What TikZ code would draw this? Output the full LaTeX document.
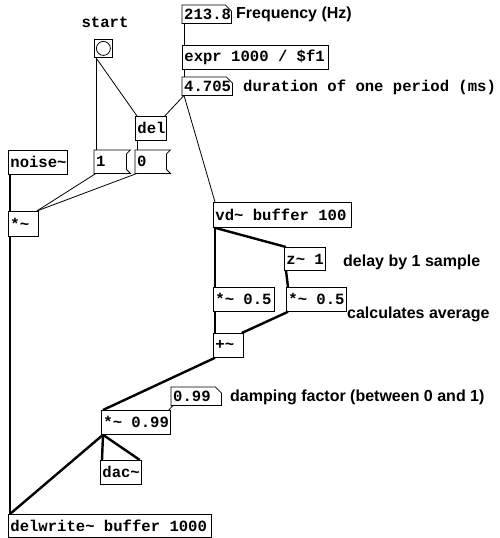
\documentclass[tikz,border=0pt]{standalone}
\usepackage{fontspec}
\usepackage{tikz}
\newfontfamily\pdmono{Liberation Mono}[WordSpace={1,0,0}]
\newfontfamily\pdsans{Liberation Sans}
\newcommand{\pdfont}{\pdmono\bfseries\fontsize{15.6}{16}\selectfont}
\newcommand{\cmtfont}{\pdsans\bfseries\fontsize{16}{17}\selectfont}
\newcommand{\tld}{\textasciitilde}
\tikzset{
  pdobj/.style={draw, line width=0.8pt, anchor=north west, font=\pdfont,
                inner xsep=2pt, inner ysep=0pt, minimum height=24pt,
                execute at begin node={\hbox to #1\bgroup},
                execute at end node={\hfil\egroup}},
  pdnum/.style={anchor=north west, font=\pdfont, inner xsep=2pt,
                inner ysep=0pt, minimum height=18pt,
                execute at begin node={\hbox to #1\bgroup},
                execute at end node={\hfil\egroup},
                append after command={\pgfextra{\let\nb\tikzlastnode
                  \draw[line width=0.8pt] (\nb.north west) -- ([xshift=-6pt]\nb.north east)
                    -- ([yshift=-6pt]\nb.north east) -- (\nb.south east)
                    -- (\nb.south west) -- cycle;}}},
  pdmsg/.style={anchor=north west, font=\pdfont, inner xsep=2pt,
                inner ysep=0pt, minimum height=23pt,
                execute at begin node={\hbox to #1\bgroup},
                execute at end node={\hfil\egroup},
                append after command={\pgfextra{\let\mb\tikzlastnode
                  \draw[line width=0.8pt] (\mb.north west) -- ([xshift=4pt]\mb.north east)
                    -- ([yshift=-4pt]\mb.north east) -- ([yshift=4pt]\mb.south east)
                    -- ([xshift=4pt]\mb.south east) -- (\mb.south west) -- cycle;}}},
  pdbng/.style={draw, line width=0.8pt, anchor=north west, minimum size=18pt,
                inner sep=0pt,
                path picture={\draw[line width=0.8pt] (path picture bounding box.center) circle (7pt);}},
  pdlbl/.style={font=\pdfont, inner sep=0pt, anchor=west},
  pdcmt/.style={font=\cmtfont, inner sep=0pt, anchor=west},
  ctl/.style={line width=0.8pt},
  sig/.style={line width=2.4pt}
}
\begin{document}
\begin{tikzpicture}[x=1pt,y=-1pt]
  \useasboundingbox (0,0) rectangle (500,538);
  % control part
  \node[pdlbl, anchor=center] (starttxt) at (105,22) {start};
  \node[pdbng] (bng) at (94,39) {};
  \node[pdnum=45pt] (freq) at (182,5) {213.8};
  \node[pdcmt] (freqtxt) at (236,14) {Frequency (Hz)};
  \node[pdobj=142pt] (expr) at (182,45) {expr 1000 / \$f1};
  \node[pdnum=46pt] (period) at (182,77) {4.705};
  \node[pdlbl] (periodtxt) at (243,87) {duration of one period (ms)};
  \node[pdobj=27pt] (del) at (135,116) {del};
  \node[pdobj=55pt] (noise) at (8,150) {noise\tld};
  \node[pdmsg=28pt] (msgone) at (94,150) {1};
  \node[pdmsg=27pt] (msgzero) at (135,150) {0};
  \node[pdobj=26pt, minimum height=25pt] (mulnoise) at (8,211) {*\tld};
  % signal part
  \node[pdobj=134pt, minimum height=25pt] (vd) at (213,202) {vd\tld{} buffer 100};
  \node[pdobj=37pt, minimum height=23pt] (zdel) at (284,247) {z\tld{} 1};
  \node[pdcmt] (zdeltxt) at (343,262) {delay by 1 sample};
  \node[pdobj=57pt] (mula) at (213,287) {*\tld{} 0.5};
  \node[pdobj=56pt] (mulb) at (286,287) {*\tld{} 0.5};
  \node[pdcmt] (avgtxt) at (347,314) {calculates average};
  \node[pdobj=26pt] (add) at (213,333) {+\tld};
  \node[pdnum=46pt] (damp) at (171,387) {0.99};
  \node[pdcmt] (damptxt) at (230,397) {damping factor (between 0 and 1)};
  \node[pdobj=65pt] (mulfb) at (101,410) {*\tld{} 0.99};
  \node[pdobj=37pt] (dac) at (100,460) {dac\tld};
  \node[pdobj=199pt, minimum height=23pt] (delwrite) at (8,514) {delwrite\tld{} buffer 1000};
  % connections
  \draw[ctl] ([xshift=2pt]bng.south west) -- ([xshift=2pt]msgone.north west);
  \draw[ctl] ([xshift=2pt]bng.south west) -- ([xshift=2pt]del.north west);
  \draw[ctl] ([xshift=2pt]freq.south west) -- ([xshift=2pt]expr.north west);
  \draw[ctl] ([xshift=2pt]expr.south west) -- ([xshift=2pt]period.north west);
  \draw[ctl] ([xshift=2pt]period.south west) -- ([xshift=-2pt]del.north east);
  \draw[ctl] ([xshift=2pt]period.south west) -- ([xshift=2pt]vd.north west);
  \draw[ctl] ([xshift=2pt]del.south west) -- ([xshift=2pt]msgzero.north west);
  \draw[ctl] ([xshift=2pt]msgone.south west) -- ([xshift=-2pt]mulnoise.north east);
  \draw[ctl] ([xshift=2pt]msgzero.south west) -- ([xshift=-2pt]mulnoise.north east);
  \draw[sig] ([xshift=2pt]noise.south west) -- ([xshift=2pt]mulnoise.north west);
  \draw[sig] ([xshift=2pt]mulnoise.south west) -- ([xshift=2pt]delwrite.north west);
  \draw[sig] ([xshift=2pt]vd.south west) -- ([xshift=2pt]mula.north west);
  \draw[sig] ([xshift=2pt]vd.south west) -- ([xshift=2pt]zdel.north west);
  \draw[sig] ([xshift=2pt]zdel.south west) -- ([xshift=2pt]mulb.north west);
  \draw[sig] ([xshift=2pt]mula.south west) -- ([xshift=2pt]add.north west);
  \draw[sig] ([xshift=2pt]mulb.south west) -- ([xshift=-2pt]add.north east);
  \draw[sig] ([xshift=2pt]add.south west) -- ([xshift=2pt]mulfb.north west);
  \draw[ctl] ([xshift=2pt]damp.south west) -- ([xshift=-2pt]mulfb.north east);
  \draw[sig] ([xshift=2pt]mulfb.south west) -- ([xshift=2pt]dac.north west);
  \draw[sig] ([xshift=2pt]mulfb.south west) -- ([xshift=-2pt]dac.north east);
  \draw[sig] ([xshift=2pt]mulfb.south west) -- ([xshift=2pt]delwrite.north west);
\end{tikzpicture}
\end{document}
